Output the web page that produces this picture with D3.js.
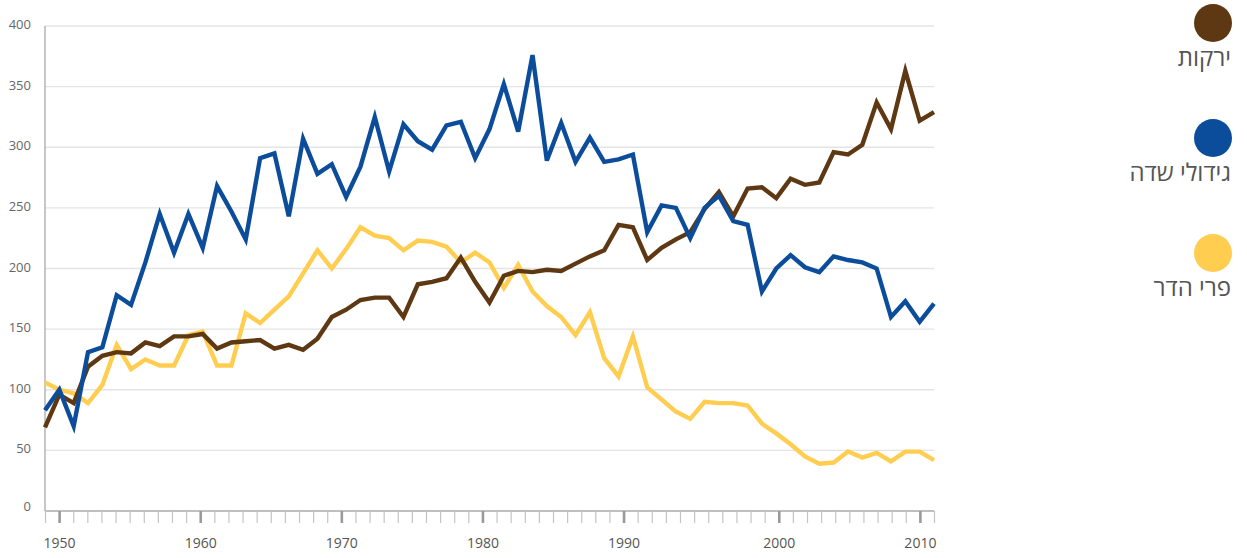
<!DOCTYPE html>
<html><head><meta charset="utf-8">
<script src="https://cdn.jsdelivr.net/npm/d3@7"></script>
<style>
html,body{margin:0;padding:0;background:#fff;}
svg{display:block;font-family:"Open Sans","DejaVu Sans",sans-serif;}
</style></head>
<body><svg id="c" width="1247" height="558"></svg>
<script>
const years = [1949,1950,1951,1952,1953,1954,1955,1956,1957,1958,1959,1960,1961,1962,1963,1964,1965,1966,1967,1968,1969,1970,1971,1972,1973,1974,1975,1976,1977,1978,1979,1980,1981,1982,1983,1984,1985,1986,1987,1988,1989,1990,1991,1992,1993,1994,1995,1996,1997,1998,1999,2000,2001,2002,2003,2004,2005,2006,2007,2008,2009,2010,2011];
const vegetables = [69,96,89,119,128,131,130,139,136,144,144,146,134,139,140,141,134,137,133,142,160,166,174,176,176,160,187,189,192,209,189,172,194,198,197,199,198,204,210,215,236,234,207,217,224,230,249,263,243,266,267,258,274,269,271,296,294,302,337,315,363,322,329];
const fieldCrops = [83,100,70,131,135,178,170,205,245,213,245,217,268,247,224,291,295,243,307,278,286,259,284,325,280,319,305,298,318,321,291,315,352,313,376,289,320,288,308,288,290,294,230,252,250,225,250,260,239,236,181,200,211,201,197,210,207,205,200,160,173,156,171];
const citrus = [106,100,97,89,104,137,117,125,120,120,145,148,120,120,163,155,166,177,196,215,200,216,234,227,225,215,223,222,218,205,213,205,184,203,181,169,160,145,164,126,111,144,102,92,82,76,90,89,89,87,72,64,55,45,39,40,49,44,48,41,49,49,42];
const seriesNames = ["ירקות","גידולי שדה","פרי הדר"];
const seriesColors = ["#5e3812","#0c4d9b","#ffcd50"];
const yTicks = [0,50,100,150,200,250,300,350,400];
// axis tick slots (64 evenly spaced slots on the time axis) and labelled slots
const axisSlotCount = 64;
const xTickLabels = ["1950","1960","1970","1980","1990","2000","2010"];
const xTickSlots = [1,11,21,31,41,52,62];

const svg = d3.select("#c");
const L = 45, R = 934, T = 26, B = 511;
const x = d3.scaleLinear().domain([years[0], years[years.length-1]]).range([L, R]);
const y = d3.scaleLinear().domain([0,400]).range([B, T]);
const xs = d3.scaleLinear().domain([0, axisSlotCount-1]).range([L, R]);

// gridlines
svg.append("g").selectAll("line").data(yTicks.filter(d=>d>0)).join("line")
  .attr("x1",L).attr("x2",R).attr("y1",d=>y(d)).attr("y2",d=>y(d))
  .attr("stroke","#e4e4e4").attr("stroke-width",1.3);

// y labels
svg.append("g").selectAll("text").data(yTicks).join("text")
  .attr("x",31).attr("y",d=>Math.min(y(d)+3, B-0.5))
  .attr("text-anchor","end").attr("font-size",13).attr("fill","#666")
  .text(d=>d);

// left axis line
svg.append("line").attr("x1",L).attr("x2",L).attr("y1",T).attr("y2",B)
  .attr("stroke","#aaa").attr("stroke-width",1.3);

// bottom axis
const slotIdx = d3.range(axisSlotCount);
const labelMap = new Map(xTickSlots.map((s,i)=>[s,xTickLabels[i]]));
const xAxis = d3.axisBottom(xs).tickValues(slotIdx).tickSize(12)
  .tickFormat(d=>labelMap.has(d)?labelMap.get(d):"");
const gx = svg.append("g").attr("transform",`translate(0,${B})`).call(xAxis);
gx.select(".domain").attr("stroke","#aaa").attr("stroke-width",1.5).attr("d",`M${L},0H${R}`);
gx.selectAll(".tick line")
  .attr("stroke",d=>labelMap.has(d)?"#9a9a9a":"#c4c4c4")
  .attr("stroke-width",d=>labelMap.has(d)?2.6:1.2);
gx.selectAll(".tick text").attr("y",29).attr("dy","0.6em")
  .attr("font-size",14).attr("fill","#555")
  .attr("font-family",'"Open Sans","DejaVu Sans",sans-serif');

// lines
const seriesData = [vegetables, fieldCrops, citrus];
const line = d3.line().x((d,i)=>x(years[i])).y(d=>y(d));
const order = [2,0,1];
svg.append("g").selectAll("path").data(order).join("path")
  .attr("d",k=>line(seriesData[k]))
  .attr("fill","none").attr("stroke",k=>seriesColors[k])
  .attr("stroke-width",4.4).attr("stroke-linejoin","miter");

// legend
const legY = [23,138,253];
const lg = svg.append("g").selectAll("g").data(seriesNames).join("g");
lg.append("circle").attr("cx",1213).attr("cy",(d,i)=>legY[i]).attr("r",19)
  .attr("fill",(d,i)=>seriesColors[i]);
lg.append("text").attr("x",1231).attr("y",(d,i)=>legY[i]+43)
  .attr("text-anchor","end").attr("font-size",24).attr("fill","#555")
  .text(d=>d);
</script></body></html>
